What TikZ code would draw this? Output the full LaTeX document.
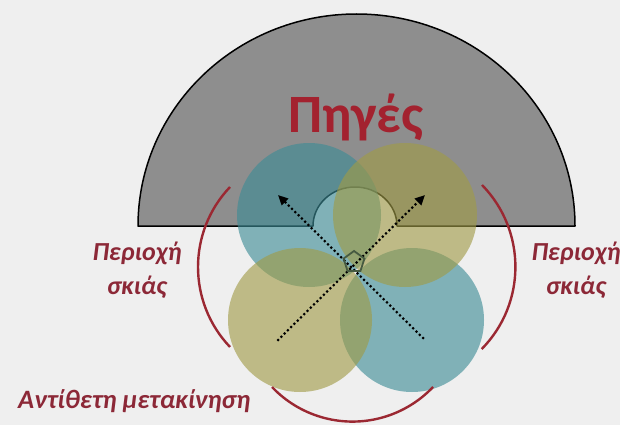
\documentclass[tikz,border=0pt]{standalone}
\usepackage{fontspec}
\setmainfont{Carlito}
\usetikzlibrary{shapes.geometric,arrows.meta}
\definecolor{bgc}{RGB}{239,239,239}
\definecolor{srcgray}{RGB}{142,142,142}
\definecolor{tealc}{RGB}{60,140,150}
\definecolor{olivec}{RGB}{160,155,70}
\definecolor{titlered}{RGB}{163,34,47}
\definecolor{labelred}{RGB}{140,40,55}
\definecolor{arcred}{RGB}{155,40,50}
\definecolor{pentc}{RGB}{70,90,65}
\begin{document}
\begin{tikzpicture}[x=1pt,y=-1pt,
  tealobe/.style={fill=tealc, fill opacity=0.62},
  olivelobe/.style={fill=olivec, fill opacity=0.62},
  dirarrow/.style={line width=3pt, dash pattern=on 0pt off 4.6pt, line cap=round,
    -{Triangle[length=10pt,width=9pt]}},
  redarc/.style={draw=arcred, line width=2.4pt},
  sidelabel/.style={text=labelred, font=\fontsize{26}{34}\selectfont\bfseries\itshape, align=center, inner sep=0pt},
  bottomlabel/.style={text=labelred, font=\fontsize{26.5}{28}\selectfont\bfseries\itshape, inner sep=0pt},
  titlelabel/.style={text=titlered, font=\fontsize{54}{60}\selectfont\bfseries, inner sep=0pt}]
\useasboundingbox (0,0) rectangle (620,425);
\fill[bgc] (0,0) rectangle (620,425);
% sources half-disc with small opening
\draw[fill=srcgray, line width=1.5pt, line join=round]
  (138,226) arc[start angle=180, end angle=360, x radius=218.5, y radius=212]
  -- (397,226) arc[start angle=360, end angle=180, x radius=42, y radius=39]
  -- cycle;
\node[titlelabel, anchor=base] (src) at (356,132) {Πηγές};
% lobes
\fill[tealobe] (309,215) circle[radius=72];
\fill[tealobe] (412,320) circle[radius=72];
\fill[olivelobe] (405,215) circle[radius=72];
\fill[olivelobe] (300,320) circle[radius=72];
% arrows
\coordinate (a1s) at (278,340);
\coordinate (a1e) at (425,195);
\coordinate (a2s) at (423,338);
\coordinate (a2e) at (278,195);
\draw[dirarrow] (a1s) -- (a1e);
\draw[dirarrow] (a2s) -- (a2e);
% centre marker
\node[regular polygon, regular polygon sides=5, draw=pentc, line width=1.8pt,
  minimum size=22pt, inner sep=0pt] (hub) at (354,262) {};
% shadow arcs
\draw[redarc] (230,187) arc[start angle=223.6, end angle=136.4, radius=116];
\draw[redarc] (482,185) arc[start angle=-44.4, end angle=44.6, radius=117];
\draw[redarc] (272,387) arc[start angle=136.5, end angle=43.5, radius=111];
% labels
\node[sidelabel, anchor=base] (shl) at (137,294) {Περιοχή\\σκιάς};
\node[sidelabel, anchor=base] (shr) at (576,294) {Περιοχή\\σκιάς};
\node[bottomlabel, anchor=base west] (opp) at (18,408) {Αντίθετη μετακίνηση};
\end{tikzpicture}
\end{document}
